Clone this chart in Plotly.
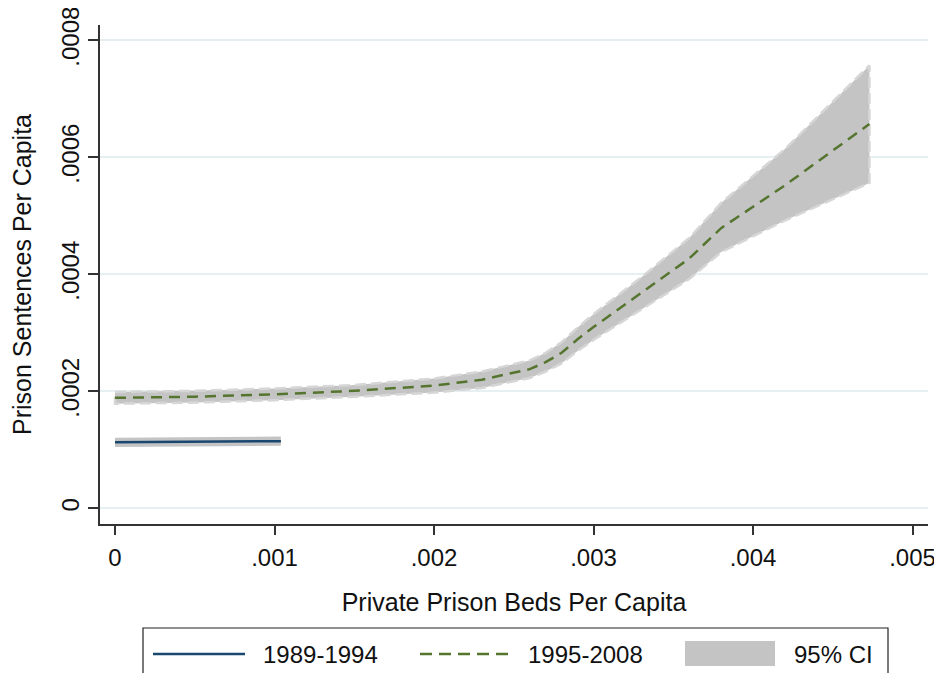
import plotly.graph_objects as go

# ---- data ----
x_pre = [0.0, 0.0005, 0.00104]
y_pre = [0.000113, 0.000114, 0.000115]
lo_pre = [0.000105, 0.000106, 0.000107]
hi_pre = [0.000121, 0.000122, 0.000123]

x_post = [0.0, 0.0005, 0.001, 0.0015, 0.002, 0.0023, 0.0026, 0.0027, 0.0028, 0.0029,
          0.003, 0.0033, 0.0036, 0.0038, 0.0042, 0.00473]
y_post = [0.000189, 0.000191, 0.000195, 0.000201, 0.000210, 0.000220, 0.000238, 0.000250,
          0.000266, 0.000289, 0.000310, 0.000368, 0.000427, 0.000479, 0.000552, 0.000657]
hi_post = [0.000199, 0.000201, 0.000205, 0.000211, 0.000222, 0.000234, 0.000253, 0.000266,
           0.000284, 0.000309, 0.000332, 0.000395, 0.000462, 0.000522, 0.000614, 0.000757]
lo_post = [0.000179, 0.000181, 0.000185, 0.000191, 0.000198, 0.000206, 0.000223, 0.000234,
           0.000248, 0.000269, 0.000288, 0.000340, 0.000392, 0.000438, 0.000492, 0.000556]

x_ticks = [0, 0.001, 0.002, 0.003, 0.004, 0.005]
x_ticktext = ["0", ".001", ".002", ".003", ".004", ".005"]
y_ticks = [0, 0.0002, 0.0004, 0.0006, 0.0008]
y_ticktext = ["0", ".0002", ".0004", ".0006", ".0008"]

names = ["1989-1994", "1995-2008", "95% CI"]

FONT = "Liberation Sans, Arial, sans-serif"
BAND = "#c4c4c4"
BAND_EDGE = "#d6d6d6"
BLUE = "#1a476f"
GREEN = "#55752f"
TXT = "#111111"

# The page body has an 8px margin, so the figure is offset by 8px on screen.
OFF = 8
SCREEN_W, SCREEN_H = 942, 673
PLOT_L, PLOT_R, PLOT_T, PLOT_B = 100, 928, 25, 524  # target plot area on screen
W, H = SCREEN_W - OFF, SCREEN_H - OFF
ML, MT = PLOT_L - OFF, PLOT_T - OFF
MR, MB = SCREEN_W - PLOT_R, SCREEN_H - PLOT_B


def px_x(p):  # screen pixel -> paper x
    return (p - PLOT_L) / (PLOT_R - PLOT_L)


def px_y(p):  # screen pixel -> paper y
    return (PLOT_B - p) / (PLOT_B - PLOT_T)


fig = go.Figure()

# CI bands (closed polygons, Stata rarea style)
for xs, lo, hi, edge in [(x_pre, lo_pre, hi_pre, False), (x_post, lo_post, hi_post, True)]:
    bx = list(xs) + list(xs[::-1]) + [xs[0]]
    by = list(hi) + list(lo[::-1]) + [hi[0]]
    fig.add_trace(go.Scatter(
        x=bx, y=by, mode="lines", fill="toself", fillcolor=BAND,
        line=dict(width=0, color=BAND), hoverinfo="skip", name=names[2]))
    if edge:
        fig.add_trace(go.Scatter(
            x=bx, y=by, mode="lines",
            line=dict(width=2.5, color=BAND_EDGE, dash="11px,5px"),
            hoverinfo="skip", name=names[2] + " bound"))

fig.add_trace(go.Scatter(x=x_pre, y=y_pre, mode="lines", name=names[0],
                         line=dict(color=BLUE, width=2.5)))
fig.add_trace(go.Scatter(x=x_post, y=y_post, mode="lines", name=names[1],
                         line=dict(color=GREEN, width=2.5, dash="11px,7px")))

# ---- legend box (drawn like Stata's legend) ----
shapes = [
    dict(type="rect", xref="paper", yref="paper",
         x0=px_x(143), x1=px_x(888), y0=px_y(700), y1=px_y(628),
         line=dict(color="#222222", width=1.2), fillcolor="rgba(0,0,0,0)", layer="above"),
    dict(type="line", xref="paper", yref="paper",
         x0=px_x(153), x1=px_x(245), y0=px_y(654), y1=px_y(654),
         line=dict(color=BLUE, width=2.5)),
    dict(type="line", xref="paper", yref="paper",
         x0=px_x(420), x1=px_x(510), y0=px_y(654), y1=px_y(654),
         line=dict(color=GREEN, width=2.5, dash="12px,7px")),
    dict(type="rect", xref="paper", yref="paper",
         x0=px_x(685), x1=px_x(775), y0=px_y(666), y1=px_y(641),
         line=dict(width=0), fillcolor=BAND),
]
LEG_FONT = dict(size=24, color=TXT, family=FONT)
annotations = [
    dict(text=names[0], x=px_x(261), y=px_y(654), xref="paper", yref="paper",
         xanchor="left", yanchor="middle", showarrow=False, font=LEG_FONT),
    dict(text=names[1], x=px_x(526), y=px_y(654), xref="paper", yref="paper",
         xanchor="left", yanchor="middle", showarrow=False, font=LEG_FONT),
    dict(text=names[2], x=px_x(792), y=px_y(654), xref="paper", yref="paper",
         xanchor="left", yanchor="middle", showarrow=False, font=LEG_FONT),
]

fig.update_layout(
    width=W, height=H,
    margin=dict(l=ML, r=MR, t=MT, b=MB, pad=0),
    paper_bgcolor="white", plot_bgcolor="white",
    font=dict(family=FONT, size=24, color=TXT),
    showlegend=False,
    shapes=shapes, annotations=annotations,
)

fig.update_xaxes(
    range=[-0.000094, 0.005097], tickvals=x_ticks, ticktext=x_ticktext,
    tickfont=dict(size=24, family=FONT, color=TXT),
    showline=True, linecolor="#333333", linewidth=1.5,
    ticks="outside", ticklen=9, tickcolor="#333333", tickwidth=1.5,
    ticklabelstandoff=2, ticklabeloverflow="allow",
    showgrid=False, zeroline=False,
    title=dict(text="Private Prison Beds Per Capita", standoff=24,
               font=dict(size=25, family=FONT, color=TXT)),
    automargin=False,
)
fig.update_yaxes(
    range=[-0.0000265, 0.000826], tickvals=y_ticks, ticktext=y_ticktext,
    tickangle=-90, tickfont=dict(size=24, family=FONT, color=TXT),
    showline=True, linecolor="#333333", linewidth=1.5,
    ticks="outside", ticklen=10, tickcolor="#333333", tickwidth=1.5,
    ticklabelstandoff=0, ticklabeloverflow="allow",
    showgrid=True, gridcolor="#e6eff1", gridwidth=1.5, zeroline=False,
    title=dict(text="Prison Sentences Per Capita", standoff=29,
               font=dict(size=25, family=FONT, color=TXT)),
    automargin=False,
)

fig.write_html("out.html")
